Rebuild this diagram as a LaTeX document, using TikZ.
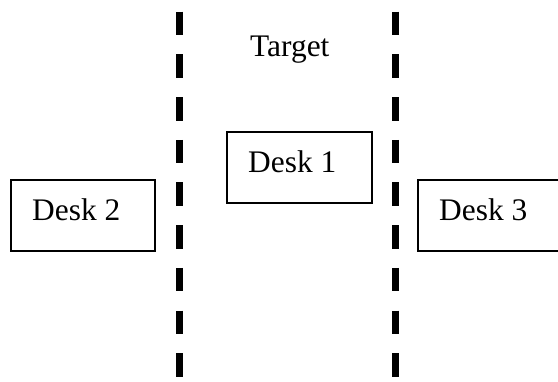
\documentclass[tikz,border=0pt]{standalone}
\usepackage{fontspec}
\setmainfont{Liberation Serif}
\begin{document}
\begin{tikzpicture}[x=1pt,y=-1pt,
  deskbox/.style={draw=black,line width=1.8pt,rectangle,inner sep=0pt,minimum width=#1,minimum height=71pt},
  lbl/.style={anchor=base west,inner sep=0pt,font=\fontsize{31.4pt}{36pt}\selectfont},
  divider/.style={line width=7pt,dash pattern=on 23.5pt off 19.2pt}]
\clip (0,0) rectangle (558,382);
\fill[white] (0,0) rectangle (558,382);
% dashed dividers
\coordinate (la) at (179.5,11.7);
\coordinate (lb) at (179.5,378);
\coordinate (ra) at (395.5,11.7);
\coordinate (rb) at (395.5,378);
\draw[divider] (la) -- (lb);
\draw[divider] (ra) -- (rb);
% boxes
\node[deskbox=144pt] (d2) at (83,215.5) {};
\node[deskbox=145pt] (d1) at (299.5,167.5) {};
\node[deskbox=240pt] (d3) at (538,215.5) {};
% labels
\node[lbl] (t2) at (32,221) {Desk 2};
\node[lbl] (t1) at (248,173) {Desk 1};
\node[lbl] (t3) at (439,221) {Desk 3};
\node[lbl] (tg) at (250,57) {Target};
\end{tikzpicture}
\end{document}
